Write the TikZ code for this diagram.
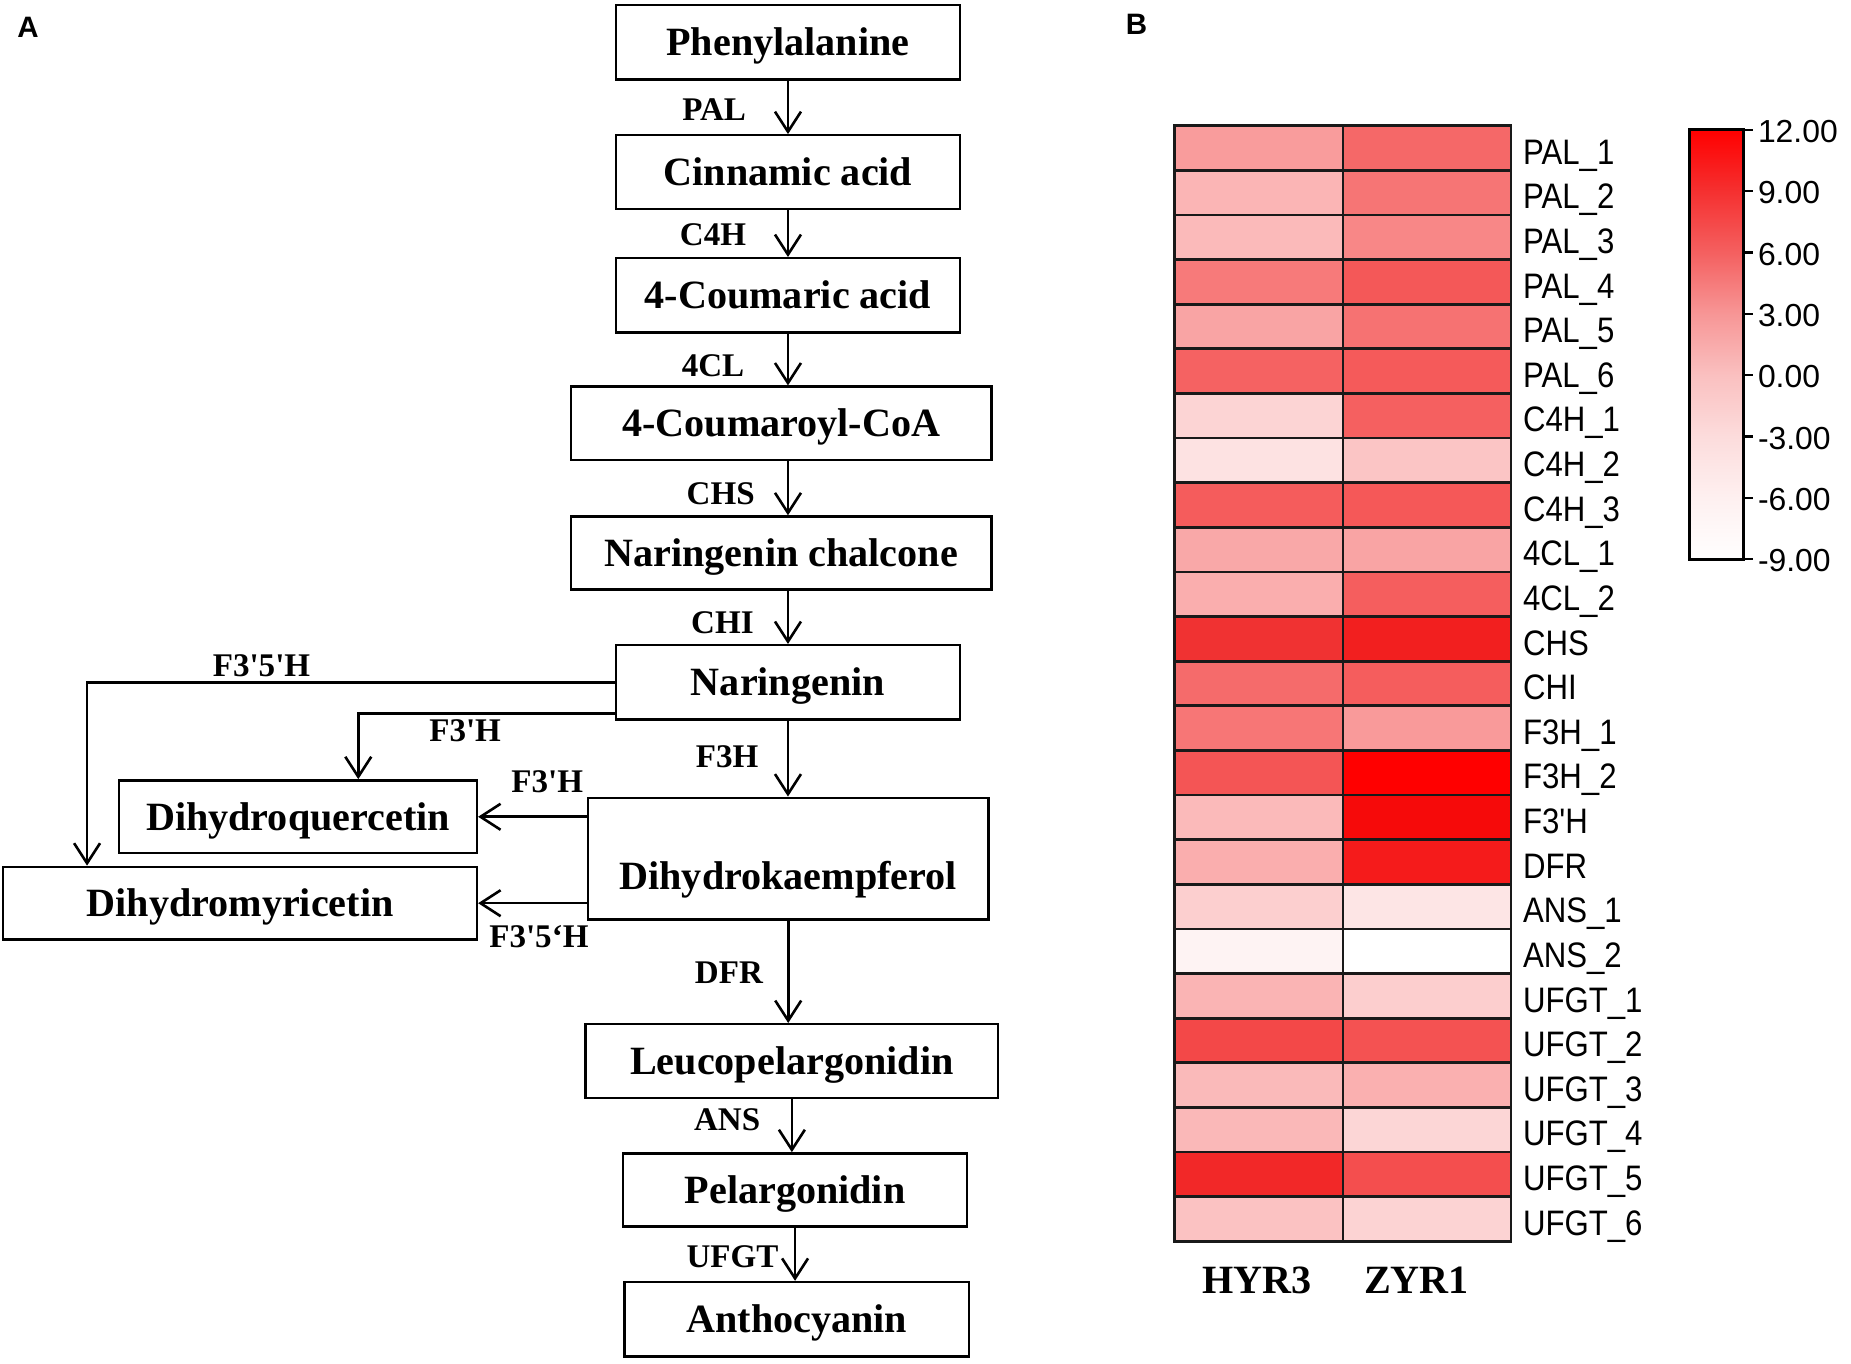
\documentclass[tikz,border=0pt]{standalone}
\usepackage{fontspec}
\newfontfamily\tnr{Liberation Serif}
\newfontfamily\arl{Liberation Sans}
\newfontfamily\arln{Liberation Sans}[FakeStretch=0.88]
\usetikzlibrary{arrows.meta,calc}
\pgfdeclareverticalshading{cbar}{100bp}{color(0bp)=(white); color(25bp)=(white); color(32.14bp)=(rgb,255:red,254;green,240;blue,240); color(39.29bp)=(rgb,255:red,252;green,220;blue,220); color(46.43bp)=(rgb,255:red,250;green,192;blue,192); color(53.57bp)=(rgb,255:red,247;green,150;blue,150); color(60.71bp)=(rgb,255:red,244;green,96;blue,96); color(67.86bp)=(rgb,255:red,245;green,48;blue,48); color(75bp)=(red); color(100bp)=(red)}
\tikzset{
  box/.style={draw, line width=2pt, inner sep=0pt, font=\tnr\bfseries\fontsize{34}{40}\selectfont, text height=22.5pt, text depth=0pt},
  enz/.style={inner sep=0pt, font=\tnr\bfseries\fontsize{28}{32}\selectfont, text height=18.5pt, text depth=0pt},
  arr/.style={line width=2.2pt, -{Straight Barb[length=17pt,width=22pt]}},
  hl/.style={anchor=west, inner sep=0pt, font=\arln\fontsize{30}{34}\selectfont, text height=21.5pt, text depth=0pt},
  cl/.style={anchor=west, inner sep=0pt, font=\arl\fontsize{27}{32}\selectfont, text height=19.3pt, text depth=0pt},
  panel/.style={inner sep=0pt, font=\arl\bfseries\fontsize{25}{28}\selectfont, text height=17.9pt, text depth=0pt},
  grid/.style={line width=2.4pt, draw=black!90}
}
\begin{document}
\begin{tikzpicture}[x=1pt,y=-1pt]
\fill[white] (0,0) rectangle (1568,1155);
\useasboundingbox (0,0) rectangle (1568,1155);

% panel labels
\node[panel] (pA) at (23.7,22.5) {A};
\node[panel] (pB) at (962.7,20.5) {B};

% pathway boxes
\node[box, minimum width=291, minimum height=63] (phe) at (667.5,36) {Phenylalanine};
\node[box, minimum width=291, minimum height=62.4] (cin) at (667.5,145.8) {Cinnamic acid};
\node[box, minimum width=291, minimum height=63] (cou) at (667.5,250.2) {4-Coumaric acid};
\node[box, minimum width=356.5, minimum height=62] (coa) at (661.8,358.5) {4-Coumaroyl-CoA};
\node[box, minimum width=356.5, minimum height=62] (chal) at (661.8,468.5) {Naringenin chalcone};
\node[box, minimum width=291, minimum height=63] (nar) at (667.5,578) {Naringenin};
\node[box, minimum width=339.4, minimum height=103.3, text height=51.7pt] (dhk) at (667.7,727.4) {Dihydrokaempferol};
\node[box, minimum width=303, minimum height=61.7] (dq) at (252.5,691.9) {Dihydroquercetin};
\node[box, minimum width=401.3, minimum height=61.6] (dmy) at (203.4,765.1) {Dihydromyricetin};
\node[box, minimum width=349.5, minimum height=62.4] (leu) at (670.8,898.8) {Leucopelargonidin};
\node[box, minimum width=291, minimum height=62] (pel) at (673.5,1008) {Pelargonidin};
\node[box, minimum width=292, minimum height=63] (ant) at (675,1117.5) {Anthocyanin};

% arrows
\draw[arr] (phe.south) -- (phe.south |- cin.north);
\draw[arr] (cin.south) -- (cin.south |- cou.north);
\draw[arr] (cou.south) -- (cou.south |- coa.north);
\draw[arr] (coa.south -| cou.south) -- (chal.north -| cou.south);
\draw[arr] (chal.south -| nar.north) -- (nar.north);
\draw[arr] (nar.south) -- (nar.south |- dhk.north);
\draw[arr] (nar.west) -| ([xshift=72]dmy.north west);
\draw[arr] ([yshift=6pt]nar.south west) -| ([xshift=203.5pt]dq.north west);
\draw[arr] (dhk.west |- dq.east) -- (dq.east);
\draw[arr] (dhk.west |- dmy.east) -- (dmy.east);
\draw[arr] (dhk.south) -- (dhk.south |- leu.north);
\draw[arr] (leu.south) -- (leu.south |- pel.north);
\draw[arr] (pel.south) -- (pel.south |- ant.north);

% enzyme labels
\node[enz] (ePAL) at (605,92.5) {PAL};
\node[enz] (eC4H) at (604,199) {C4H};
\node[enz] (e4CL) at (604,309.5) {4CL};
\node[enz] (eCHS) at (610.5,418) {CHS};
\node[enz] (eCHI) at (612,527.5) {CHI};
\node[enz] (eF35a) at (221.5,563.5) {F3'5'H};
\node[enz] (eF3a) at (394,618.5) {F3'H};
\node[enz] (eF3H) at (616,641) {F3H};
\node[enz] (eF3b) at (463.5,662) {F3'H};
\node[enz] (eF35b) at (456.5,793.5) {F3'5‘H};
\node[enz] (eDFR) at (617.5,823.5) {DFR};
\node[enz] (eANS) at (616,948) {ANS};
\node[enz] (eUFGT) at (620.5,1064.5) {UFGT};

% heatmap
\foreach \lab/\ca/\cb [count=\i from 0] in {
  PAL\_1/F99C9C/F56868, PAL\_2/FBB5B5/F67575, PAL\_3/FBBABA/F88787,
  PAL\_4/F77A7A/F45858, PAL\_5/F9A4A4/F67272, PAL\_6/F56262/F55A5A,
  C4H\_1/FCD4D4/F56060, C4H\_2/FDE2E2/FBC5C5, C4H\_3/F55C5C/F55858,
  4CL\_1/F9A8A8/F9A4A4, 4CL\_2/FAAEAE/F55E5E, CHS/F03232/F21F1F,
  CHI/F56B6B/F55D5D, F3H\_1/F77676/F99A9A, F3H\_2/F45555/FF0000,
  F3'H/FBBABA/F60A0A, DFR/FAAEAE/F51B1B, ANS\_1/FCCFCF/FDE5E5,
  ANS\_2/FEF3F3/FFFFFF, UFGT\_1/FAB4B4/FCCECE, UFGT\_2/F34848/F45252,
  UFGT\_3/FABABA/FAB0B0, UFGT\_4/FAB8B8/FCD6D6, UFGT\_5/F22828/F44E4E,
  UFGT\_6/FBC2C2/FCD3D3}{
  \pgfmathsetmacro\yt{106.5+\i*37.8}
  \definecolor{hA}{HTML}{\ca}
  \definecolor{hB}{HTML}{\cb}
  \fill[hA] (995,\yt) rectangle (1137.7,\yt+37.8);
  \fill[hB] (1137.7,\yt) rectangle (1280,\yt+37.8);
  \node[hl] (row\i) at (1290,\yt+21.9) {\lab};
}
\foreach \i in {1,...,24}{
  \draw[grid] (995,106.5+\i*37.8) -- (1280,106.5+\i*37.8);
}
\draw[grid] (1137.7,106.5) -- (1137.7,1051.5);
\draw[grid] (995,106.5) rectangle (1280,1051.5);

% column labels
\node[enz, font=\tnr\bfseries\fontsize{34}{40}\selectfont, text height=22.5pt] (cH) at (1065,1084.6) {HYR3};
\node[enz, font=\tnr\bfseries\fontsize{34}{40}\selectfont, text height=22.5pt] (cZ) at (1200,1084.6) {ZYR1};

% colour bar
\shade[shading=cbar] (1431,110) rectangle (1477,473.8);
\draw[line width=2.4pt] (1431,110) rectangle (1477,473.8);
\foreach \v [count=\k from 0] in {12.00,9.00,6.00,3.00,0.00,-3.00,-6.00,-9.00}{
  \draw[line width=2pt] (1477,110+\k*51.97) -- (1485,110+\k*51.97);
  \node[cl] (t\k) at (1489,111+\k*51.97) {\v};
}
\end{tikzpicture}
\end{document}
